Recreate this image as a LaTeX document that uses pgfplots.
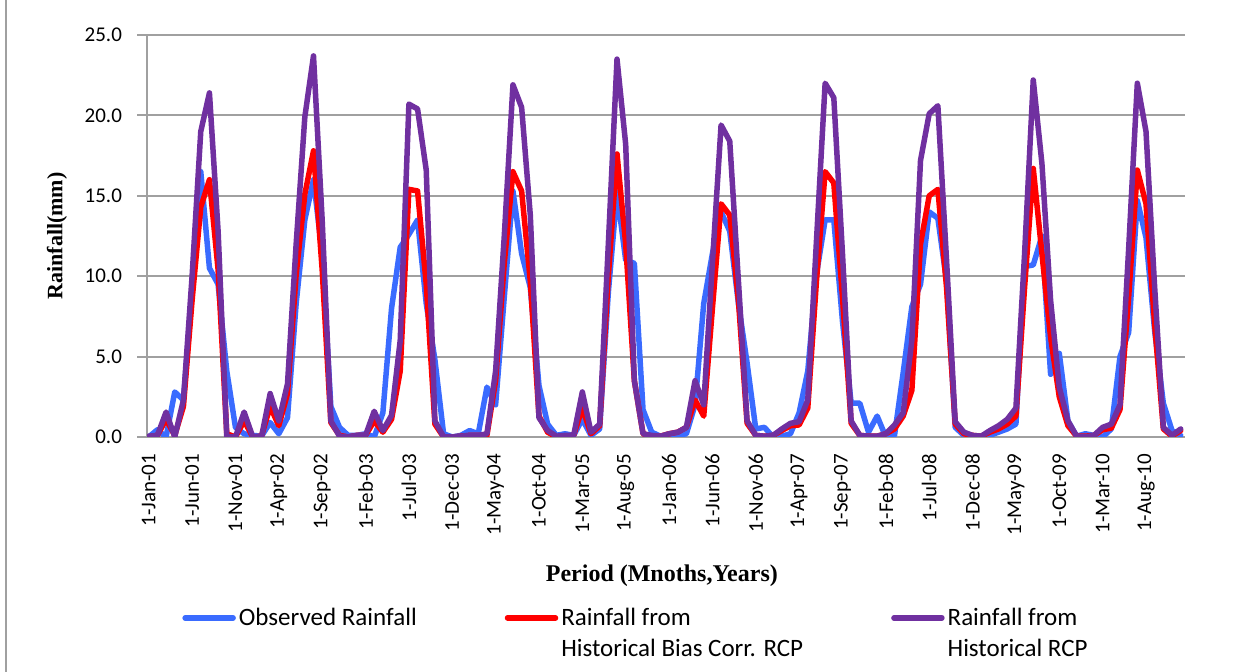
\documentclass[border=0pt]{standalone}
\usepackage{fontspec}
\setmainfont{Carlito}
\newfontfamily\tnr{Liberation Serif}
\usepackage{pgfplots}
\usepackage{pgfplotstable}
\pgfplotsset{compat=1.18}
\definecolor{obsblue}{HTML}{3A6BFF}
\definecolor{rcpred}{HTML}{FF0000}
\definecolor{rcppurple}{HTML}{7030A0}
\definecolor{gridgray}{HTML}{A0A0A0}

\pgfplotstableread{
i obs bias rcp
0 0.0 0.0 0.05
1 0.45 0.1 0.1
2 0.0 1.1 1.55
3 2.8 0.1 0.0
4 2.3 1.9 2.3
5 9.0 8.5 10.0
6 16.5 14.3 19.0
7 10.5 16.0 21.4
8 9.5 10.4 12.8
9 4.1 0.2 0.0
10 0.6 0.0 0.0
11 0.2 1.0 1.55
12 0.1 0.0 0.0
13 0.05 0.05 0.0
14 0.9 1.9 2.7
15 0.2 0.7 1.0
16 1.2 2.7 3.3
17 8.3 10.1 12.0
18 13.5 15.1 19.9
19 16.0 17.8 23.7
20 11.4 10.4 13.5
21 1.9 0.9 1.0
22 0.6 0.1 0.05
23 0.1 0.0 0.0
24 0.1 0.1 0.1
25 0.2 0.1 0.1
26 0.0 1.0 1.6
27 1.5 0.3 0.4
28 8.0 1.1 1.35
29 11.8 4.1 6.0
30 12.6 15.4 20.7
31 13.5 15.3 20.4
32 8.3 9.5 16.6
33 4.8 0.8 1.0
34 0.2 0.0 0.0
35 0.0 0.0 0.0
36 0.1 0.05 0.05
37 0.4 0.1 0.1
38 0.2 0.1 0.1
39 3.1 0.1 0.2
40 2.0 3.5 4.1
41 8.7 10.8 12.5
42 15.3 16.5 21.9
43 11.4 15.3 20.5
44 9.3 9.7 13.8
45 3.2 1.3 1.2
46 0.8 0.3 0.4
47 0.1 0.0 0.05
48 0.2 0.05 0.1
49 0.1 0.1 0.1
50 1.1 1.8 2.8
51 0.1 0.2 0.3
52 0.5 0.7 0.8
53 9.0 10.0 12.0
54 15.2 17.6 23.5
55 11.0 12.0 18.2
56 10.8 3.5 3.5
57 1.7 0.2 0.2
58 0.3 0.05 0.1
59 0.05 0.05 0.05
60 0.1 0.2 0.2
61 0.1 0.3 0.3
62 0.2 0.6 0.6
63 2.0 2.3 3.5
64 8.3 1.3 2.0
65 11.4 8.0 10.8
66 14.0 14.5 19.4
67 12.8 13.8 18.4
68 8.3 8.5 9.7
69 4.6 0.85 1.0
70 0.5 0.1 0.1
71 0.6 0.05 0.05
72 0.0 0.1 0.1
73 0.05 0.4 0.5
74 0.2 0.7 0.85
75 1.5 0.75 0.95
76 4.1 1.8 2.3
77 10.1 9.7 12.2
78 13.5 16.5 22.0
79 13.5 15.8 21.1
80 7.2 8.7 11.4
81 2.1 0.85 1.0
82 2.1 0.1 0.1
83 0.3 0.05 0.05
84 1.3 0.05 0.05
85 0.0 0.2 0.2
86 0.1 0.5 0.75
87 4.0 1.3 1.5
88 8.1 2.9 6.0
89 9.5 12.0 17.2
90 14.0 15.0 20.1
91 13.6 15.4 20.6
92 9.7 9.3 11.0
93 0.6 0.8 0.95
94 0.1 0.2 0.3
95 0.05 0.1 0.1
96 0.05 0.05 0.05
97 0.1 0.3 0.4
98 0.3 0.5 0.7
99 0.5 0.8 1.1
100 0.8 1.3 1.8
101 10.6 9.3 11.4
102 10.7 16.7 22.2
103 12.5 11.4 17.0
104 3.9 6.2 8.5
105 5.2 2.5 3.1
106 1.0 0.7 1.0
107 0.05 0.05 0.05
108 0.2 0.05 0.0
109 0.1 0.1 0.1
110 0.0 0.45 0.6
111 0.5 0.55 0.8
112 5.0 1.7 2.0
113 6.5 8.7 11.7
114 14.7 16.6 22.0
115 12.4 14.5 19.0
116 6.6 7.0 9.3
117 2.1 0.5 0.6
118 0.4 0.05 0.1
119 0.1 0.4 0.5
}\rain

\begin{document}
\begin{tikzpicture}[x=1pt,y=1pt]
\path[use as bounding box] (0,0) rectangle (625.5,336);
\draw[gridgray, line width=0.75pt] (3,0) -- (3,336);
\begin{axis}[
  at={(73.5pt,117.5pt)}, anchor=south west,
  scale only axis, width=519pt, height=201pt,
  xmin=-0.2, xmax=119.5, ymin=0, ymax=25,
  axis x line*=bottom, axis y line*=left,
  axis line style={gridgray, line width=1pt},
  ymajorgrids, grid style={gridgray, line width=1pt},
  ytick={0,5,10,15,20,25},
  tick align=outside, major tick length=5pt,
  ytick style={gridgray, line width=1pt},
  xtick style={draw=none},
  xtick={0,5,...,115},
  xticklabels={1-Jan-01,1-Jun-01,1-Nov-01,1-Apr-02,1-Sep-02,1-Feb-03,1-Jul-03,1-Dec-03,1-May-04,1-Oct-04,1-Mar-05,1-Aug-05,1-Jan-06,1-Jun-06,1-Nov-06,1-Apr-07,1-Sep-07,1-Feb-08,1-Jul-08,1-Dec-08,1-May-09,1-Oct-09,1-Mar-10,1-Aug-10},
  xticklabel style={rotate=90, anchor=east, yshift=0pt, font=\fontsize{10.5}{12}\selectfont},
  yticklabel style={xshift=-4pt, font=\fontsize{10.5}{12}\selectfont},
  /pgf/number format/assume math mode=true,
  yticklabel={\pgfmathprintnumber[fixed,fixed zerofill,precision=1]{\tick}},
  ylabel={\tnr\bfseries Rainfall(mm)},
  ylabel style={at={(axis description cs:-0.0867,0.5)}, anchor=center, font=\fontsize{11}{13}\selectfont},
  xlabel={\tnr\bfseries Period (Mnoths,Years)},
  xlabel style={at={(axis description cs:0.496,-0.346)}, anchor=center, font=\fontsize{12}{14}\selectfont},
  legend columns=3,
  legend image code/.code={\draw[#1] (0pt,4pt) -- (24pt,4pt);},
  legend style={draw=none, fill=none, inner sep=0pt,
    at={(axis description cs:0.0337,-0.405)}, anchor=north west,
    font=\fontsize{12.5}{15.5}\selectfont,
    cells={anchor=base west},
    /tikz/every odd column/.append style={column sep=-0.5pt},
    /tikz/every even column/.append style={column sep=42pt}},
  every axis plot/.append style={line width=2.75pt, line join=round, line cap=round},
]
\addplot[obsblue] table[x=i,y=obs]{\rain};
\addlegendentry{Observed Rainfall}
\addplot[rcpred] table[x=i,y=bias]{\rain};
\addlegendentry{\begin{tabular}[t]{@{}l@{}}Rainfall from\\Historical Bias Corr. RCP\end{tabular}}
\addplot[rcppurple] table[x=i,y=rcp]{\rain};
\addlegendentry{\begin{tabular}[t]{@{}l@{}}Rainfall from\\Historical RCP\end{tabular}}
\end{axis}
\end{tikzpicture}
\end{document}
